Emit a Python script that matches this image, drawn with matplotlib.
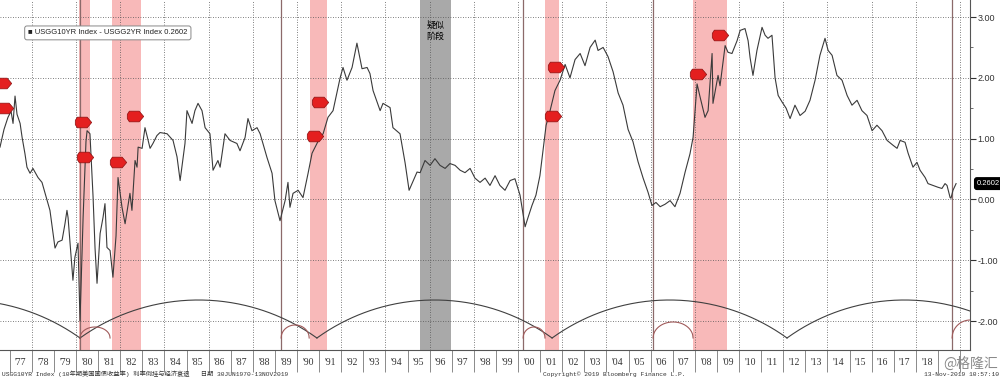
import numpy as np
import matplotlib.pyplot as plt
from matplotlib.path import Path
from matplotlib.ticker import FixedLocator, FuncFormatter, NullFormatter

plt.rcParams['font.family'] = ['DejaVu Sans', 'Noto Sans CJK SC']

# 10Y - 2Y spread (decimal year, %)
dates = [1976.56, 1976.74, 1976.92, 1977.06, 1977.15, 1977.24, 1977.33, 1977.47, 1977.56, 1977.69,
         1977.78, 1977.92, 1978.05, 1978.19, 1978.28, 1978.46, 1978.64, 1978.82, 1978.96, 1979.05,
         1979.18, 1979.37, 1979.50, 1979.59, 1979.64, 1979.77, 1979.86, 1979.95, 1980.09, 1980.18,
         1980.32, 1980.45, 1980.50, 1980.63, 1980.77, 1980.86, 1980.95, 1981.09, 1981.22, 1981.31,
         1981.40, 1981.54, 1981.67, 1981.81, 1981.90, 1982.08, 1982.22, 1982.44, 1982.53, 1982.67,
         1982.76, 1982.81, 1982.99, 1983.12, 1983.21, 1983.35, 1983.48, 1983.66, 1983.80, 1984.12,
         1984.39, 1984.57, 1984.71, 1984.93, 1985.02, 1985.25, 1985.38, 1985.52, 1985.70, 1985.84,
         1986.06, 1986.20, 1986.42, 1986.52, 1986.74, 1986.97, 1987.28, 1987.42, 1987.65, 1987.78,
         1987.96, 1988.19, 1988.33, 1988.64, 1988.87, 1989.00, 1989.23, 1989.46, 1989.59, 1989.68,
         1989.82, 1990.05, 1990.27, 1990.50, 1990.68, 1990.90, 1991.04, 1991.18, 1991.40, 1991.63,
         1991.95, 1992.08, 1992.26, 1992.49, 1992.71, 1992.94, 1993.17, 1993.30, 1993.44, 1993.76,
         1993.89, 1994.21, 1994.34, 1994.66, 1994.89, 1995.07, 1995.25, 1995.43, 1995.57, 1995.79,
         1996.02, 1996.24, 1996.47, 1996.70, 1996.92, 1997.15, 1997.38, 1997.60, 1997.83, 1998.05,
         1998.28, 1998.51, 1998.73, 1998.96, 1999.18, 1999.41, 1999.64, 1999.86, 2000.09, 2000.32,
         2000.45, 2000.63, 2000.81, 2000.99, 2001.13, 2001.27, 2001.45, 2001.67, 2001.90, 2002.13,
         2002.35, 2002.58, 2002.81, 2003.03, 2003.26, 2003.49, 2003.62, 2003.85, 2004.07, 2004.30,
         2004.53, 2004.75, 2004.98, 2005.20, 2005.43, 2005.66, 2005.88, 2006.06, 2006.24, 2006.43,
         2006.65, 2006.88, 2007.10, 2007.33, 2007.56, 2007.78, 2007.92, 2008.10, 2008.24, 2008.46,
         2008.60, 2008.78, 2008.82, 2009.05, 2009.14, 2009.37, 2009.50, 2009.68, 2009.91, 2010.05,
         2010.27, 2010.41, 2010.50, 2010.63, 2010.81, 2011.04, 2011.18, 2011.31, 2011.49, 2011.63,
         2011.77, 2011.95, 2012.13, 2012.31, 2012.53, 2012.76, 2012.99, 2013.21, 2013.44, 2013.66,
         2013.89, 2014.03, 2014.21, 2014.43, 2014.66, 2014.89, 2015.11, 2015.34, 2015.56, 2015.79,
         2016.02, 2016.24, 2016.47, 2016.70, 2016.97, 2017.15, 2017.29, 2017.51, 2017.65, 2017.87,
         2018.05, 2018.19, 2018.42, 2018.55, 2018.78, 2019.00, 2019.18, 2019.32, 2019.41, 2019.55,
         2019.59, 2019.68, 2019.82]
spread = [0.86, 1.15, 1.35, 1.45, 1.25, 1.70, 1.40, 1.25, 1.02, 0.75,
          0.53, 0.43, 0.51, 0.42, 0.36, 0.28, 0.05, -0.18, -0.55, -0.80,
          -0.70, -0.67, -0.40, -0.18, -0.30, -0.90, -1.33, -0.95, -0.72, -2.00,
          -0.30, 0.95, 1.13, 1.08, 0.05, -0.80, -1.38, -0.56, -0.30, -0.07,
          -0.79, -0.84, -1.28, -0.60, 0.36, -0.13, -0.40, 0.10, -0.18, 0.64,
          0.53, 0.86, 0.84, 1.18, 1.05, 0.84, 0.92, 1.05, 1.10, 1.08,
          0.97, 0.70, 0.31, 0.92, 1.46, 1.25, 1.46, 1.58, 1.46, 1.18,
          1.08, 0.48, 0.64, 0.53, 1.08, 0.97, 0.92, 0.80, 1.02, 1.33,
          1.13, 1.18, 1.08, 0.69, 0.43, -0.02, -0.35, -0.02, 0.28, -0.13,
          0.10, 0.15, 0.03, 0.43, 0.76, 0.92, 1.02, 1.08, 1.35, 1.46,
          2.00, 2.17, 1.96, 2.17, 2.57, 2.15, 2.17, 2.07, 1.79, 1.46,
          1.58, 1.51, 1.18, 1.08, 0.60, 0.15, 0.30, 0.45, 0.44, 0.64,
          0.56, 0.67, 0.56, 0.51, 0.59, 0.56, 0.48, 0.44, 0.51, 0.35,
          0.28, 0.35, 0.23, 0.39, 0.23, 0.15, 0.31, 0.34, 0.07, -0.45,
          -0.30, -0.10, 0.07, 0.39, 0.80, 1.22, 1.46, 1.79, 1.96, 2.22,
          2.00, 2.30, 2.40, 2.20, 2.50, 2.62, 2.45, 2.50, 2.35, 2.10,
          1.75, 1.55, 1.15, 0.95, 0.62, 0.35, 0.12, -0.10, -0.05, -0.12,
          -0.08, -0.02, -0.12, 0.10, 0.45, 0.75, 1.02, 1.90, 1.68, 1.35,
          1.46, 2.40, 1.58, 2.04, 1.87, 2.53, 2.42, 2.40, 2.61, 2.78,
          2.81, 2.61, 2.33, 2.04, 2.45, 2.83, 2.70, 2.65, 2.70, 2.00,
          1.71, 1.60, 1.50, 1.33, 1.55, 1.38, 1.45, 1.63, 1.96, 2.37,
          2.65, 2.45, 2.37, 2.04, 1.96, 1.71, 1.55, 1.63, 1.46, 1.38,
          1.13, 1.22, 1.13, 0.97, 0.89, 0.84, 0.97, 0.94, 0.76, 0.53,
          0.61, 0.48, 0.36, 0.26, 0.23, 0.20, 0.18, 0.26, 0.23, 0.03,
          0.02, 0.15, 0.26]
last_value = 0.2602

rec_start = [1980.15, 1981.63, 1990.59, 2001.22, 2007.92]
rec_end = [1980.63, 1982.94, 1991.36, 2001.85, 2009.46]
grey_start, grey_end = 1995.56, 1996.97

invert_lines = [1980.18, 1989.28, 2000.23, 2006.11, 2019.64]
cycle_nodes = [1969.46, 1980.18, 1990.90, 2001.54, 2012.17, 2022.80]
small_start = [1980.18, 1989.28, 2000.23, 2006.11, 2019.64]
small_end = [1981.54, 1990.55, 2001.22, 2007.92, 2021.30]
small_height = [11, 13, 11, 16, 18]   # pixels

tag_dates = [1976.70, 1976.79, 1980.32, 1980.41, 1981.90, 1982.67,
             1990.81, 1991.04, 2001.58, 2001.72, 2008.15, 2009.14]
tag_vals = [1.92, 1.50, 1.27, 0.69, 0.61, 1.38, 1.04, 1.60, 1.38, 2.17, 2.07, 2.70]

years = list(range(1977, 2020))
year_labels = ["'%02d" % (y % 100) for y in years[:-1]]

x0, x1 = 1976.56, 2020.45
y0, y1 = -2.477, 3.28

fig = plt.figure(figsize=(10, 3.8), dpi=100)
ax = fig.add_axes([0, 30 / 380, 0.97, 350 / 380])
ax.set_xlim(x0, x1)
ax.set_ylim(y0, y1)
sx = 970 / (x1 - x0)     # px per year
sy = 350 / (y1 - y0)     # px per unit

# shading
for a, b in zip(rec_start, rec_end):
    ax.axvspan(a, b, color='#f8b9b9', lw=0, zorder=0)
ax.axvspan(grey_start, grey_end, color='#a9a9a9', lw=0, zorder=0)
ax.text((grey_start + grey_end) / 2, 2.78, '疑似\n阶段', ha='center', va='center',
        fontsize=6.5, family=['Noto Sans CJK SC', 'DejaVu Sans'], linespacing=1.3, zorder=5)

# grid
for g in range(1978, 2021, 2):
    ax.axvline(g, color='#555555', lw=0.6, ls=(0, (1, 2)), zorder=1)
for g in range(-2, 4):
    ax.axhline(g, color='#555555', lw=0.6, ls=(0, (1, 2)), zorder=1)

for v in invert_lines:
    ax.axvline(v, color='#8c6a6a', lw=0.9, zorder=2)

# cycle arcs
base = y0 + 12 / sy
sag = 38.0
for a, b in zip(cycle_nodes[:-1], cycle_nodes[1:]):
    c = (b - a) * sx
    R = (c * c / 4 + sag * sag) / (2 * sag)
    xs = np.linspace(a, b, 200)
    dx = (xs - (a + b) / 2) * sx
    ys = base + (np.sqrt(R * R - dx * dx) - (R - sag)) / sy
    ax.plot(xs, ys, color='#404040', lw=0.8, zorder=3)
for a, b, h in zip(small_start, small_end, small_height):
    xs = np.linspace(a, b, 100)
    t = (xs - (a + b) / 2) / ((b - a) / 2)
    ys = base + h / sy * np.sqrt(np.clip(1 - t * t, 0, None))
    ax.plot(xs, ys, color='#a05a5a', lw=0.8, zorder=3)

# series
ax.plot(dates, spread, color='#3a3a3a', lw=0.8, zorder=4)

# tags
tag = Path([(-1, 0.25), (-0.75, 0.65), (0.45, 0.65), (1, 0), (0.45, -0.65),
            (-0.75, -0.65), (-1, -0.25), (-1, 0.25)])
ax.scatter(tag_dates, tag_vals, marker=tag, s=140, color='#e41f1f',
           edgecolor='#8a1010', lw=0.5, zorder=6, clip_on=True)

# axes styling
for s in ['top', 'left']:
    ax.spines[s].set_visible(False)
ax.spines['right'].set_color('#555555')
ax.spines['bottom'].set_color('#555555')
ax.yaxis.tick_right()
ax.yaxis.set_major_locator(FixedLocator(range(-2, 4)))
ax.yaxis.set_minor_locator(FixedLocator([-1.5, -0.5, 0.5, 1.5, 2.5]))
ax.yaxis.set_major_formatter(FuncFormatter(lambda v, p: '%.2f' % v))
ax.tick_params(axis='y', which='major', length=4, width=0.8, color='#333333',
               labelsize=6.5, labelcolor='#333333', pad=1.5)
ax.tick_params(axis='y', which='minor', length=2.5, width=0.6, color='#555555')
for lab in ax.get_yticklabels():
    lab.set_family('Liberation Sans')

ax.xaxis.set_major_locator(FixedLocator(years + [2020]))
ax.xaxis.set_major_formatter(NullFormatter())
ax.xaxis.set_minor_locator(FixedLocator([y + 0.5 for y in years[:-1]]))
ax.xaxis.set_minor_formatter(FuncFormatter(lambda v, p: year_labels[p] if p < len(year_labels) else ''))
ax.tick_params(axis='x', which='major', length=16, width=0.6, color='#777777')
ax.tick_params(axis='x', which='minor', length=0, pad=6, labelsize=7, labelcolor='#333333')
for lab in ax.get_xticklabels(minor=True):
    lab.set_family('Liberation Serif')

# legend box
ax.text(0.029, 0.906, '\u25A0 USGG10YR Index - USGG2YR Index 0.2602', transform=ax.transAxes,
        fontsize=5.5, family=['Liberation Sans', 'DejaVu Sans'], color='#222222', va='center',
        bbox=dict(boxstyle='round,pad=0.45,rounding_size=0.3', fc='white', ec='#888888', lw=0.7),
        zorder=7)

# last value tag
ax.annotate('%.4f' % last_value, xy=(1.0, last_value), xycoords=('axes fraction', 'data'),
            xytext=(5, 0), textcoords='offset points', ha='left', va='center',
            fontsize=5.5, color='white', family='Liberation Sans',
            bbox=dict(boxstyle='round,pad=0.3', fc='black', ec='black'), annotation_clip=False)

# footer
mono = ['Liberation Mono', 'Noto Sans CJK SC']
fig.text(0.002, 0.008, 'USGG10YR Index (10年期美国国债收益率) 利率倒挂与经济衰退   日期 30JUN1970-13NOV2019',
         fontsize=4.5, family=mono, color='#333333', va='bottom')
fig.text(0.543, 0.008, 'Copyright\u00a9 2019 Bloomberg Finance L.P.', fontsize=4.5, family=mono,
         color='#333333', va='bottom')
fig.text(0.999, 0.008, '13-Nov-2019 10:57:10', fontsize=4.5, family=mono, color='#333333',
         va='bottom', ha='right')
fig.text(0.943, 0.042, '@格隆汇', fontsize=10, family=['Noto Sans CJK SC', 'DejaVu Sans'],
         color='#8a8a8a', va='center')

fig.savefig('out.png', dpi=100)
